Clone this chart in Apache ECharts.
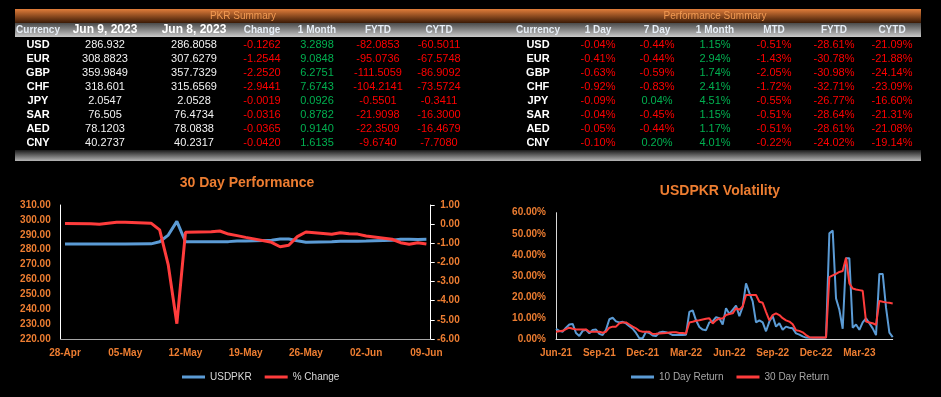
<!DOCTYPE html>
<html>
<head>
<meta charset="utf-8">
<script src="https://cdn.jsdelivr.net/npm/echarts@6.0.0/dist/echarts.min.js"></script>
<style>
  html, body { margin: 0; padding: 0; background: #000; }
  #main { width: 941px; height: 397px; }
</style>
</head>
<body>
<div id="main"></div>
<script>
// ---- table data ----
var pkrHeaders = ['Currency', 'Jun 9, 2023', 'Jun 8, 2023', 'Change', '1 Month', 'FYTD', 'CYTD'];
var currencies = ['USD', 'EUR', 'GBP', 'CHF', 'JPY', 'SAR', 'AED', 'CNY'];
var jun9 = ['286.932', '308.8823', '359.9849', '318.601', '2.0547', '76.505', '78.1203', '40.2737'];
var jun8 = ['286.8058', '307.6279', '357.7329', '315.6569', '2.0528', '76.4734', '78.0838', '40.2317'];
var change = ['-0.1262', '-1.2544', '-2.2520', '-2.9441', '-0.0019', '-0.0316', '-0.0365', '-0.0420'];
var oneMonth = ['3.2898', '9.0848', '6.2751', '7.6743', '0.0926', '0.8782', '0.9140', '1.6135'];
var fytd = ['-82.0853', '-95.0736', '-111.5059', '-104.2141', '-0.5501', '-21.9098', '-22.3509', '-9.6740'];
var cytd = ['-60.5011', '-67.5748', '-86.9092', '-73.5724', '-0.3411', '-16.3000', '-16.4679', '-7.7080'];

var perfHeaders = ['Currency', '1 Day', '7 Day', '1 Month', 'MTD', 'FYTD', 'CYTD'];
var perf1Day = ['-0.04%', '-0.41%', '-0.63%', '-0.92%', '-0.09%', '-0.04%', '-0.05%', '-0.10%'];
var perf7Day = ['-0.44%', '-0.44%', '-0.59%', '-0.83%', '0.04%', '-0.45%', '-0.44%', '0.20%'];
var perf1Month = ['1.15%', '2.94%', '1.74%', '2.41%', '4.51%', '1.15%', '1.17%', '4.01%'];
var perfMtd = ['-0.51%', '-1.43%', '-2.05%', '-1.72%', '-0.55%', '-0.51%', '-0.51%', '-0.22%'];
var perfFytd = ['-28.61%', '-30.78%', '-30.98%', '-32.71%', '-26.77%', '-28.64%', '-28.61%', '-24.02%'];
var perfCytd = ['-21.09%', '-21.88%', '-24.14%', '-23.09%', '-16.60%', '-21.31%', '-21.08%', '-19.14%'];

// ---- 30 day performance (weekends null) ----
var days = ['28-Apr', '29-Apr', '30-Apr', '01-May', '02-May', '03-May', '04-May', '05-May', '06-May', '07-May',
  '08-May', '09-May', '10-May', '11-May', '12-May', '13-May', '14-May', '15-May', '16-May', '17-May',
  '18-May', '19-May', '20-May', '21-May', '22-May', '23-May', '24-May', '25-May', '26-May', '27-May',
  '28-May', '29-May', '30-May', '31-May', '01-Jun', '02-Jun', '03-Jun', '04-Jun', '05-Jun', '06-Jun',
  '07-Jun', '08-Jun', '09-Jun'];
var usdpkr = [283.8, null, null, 283.8, 283.8, 283.8, 283.8, 283.8, null, null,
  283.9, 285.3, 289.8, 299.0, 285.3, null, null, 285.3, 285.3, 285.4,
  285.8, 285.9, null, null, 286.4, 287.1, 287.1, 286.0, 285.0, null,
  null, 285.3, 285.6, 285.6, 285.7, 285.8, null, null, 286.4, 287.0,
  287.0, 286.81, 286.93];
var pctChange = [0.04, null, null, 0.02, -0.01, 0.05, 0.1, 0.1, null, null,
  0.05, -0.3, -2.13, -5.2, -0.43, null, null, -0.4, -0.36, -0.52,
  -0.6, -0.69, null, null, -0.95, -1.18, -1.1, -0.65, -0.41, null,
  null, -0.53, -0.45, -0.5, -0.52, -0.62, null, null, -0.79, -0.97,
  -1.05, -0.97, -1.04];

// ---- volatility (weekly, from Jun-21) ----
var quarterLabels = ['Jun-21', 'Sep-21', 'Dec-21', 'Mar-22', 'Jun-22', 'Sep-22', 'Dec-22', 'Mar-23'];
var ret10 = [4.9, 4.0, 3.6, 5.5, 7.0, 7.3, 3.0, 1.6, 4.0, 4.5,
  2.8, 4.4, 4.6, 2.6, 2.0, 4.5, 9.5, 10.2, 8.5, 8.0,
  8.3, 7.5, 6.2, 5.0, 3.0, 0.5, 0.5, 3.6, 3.0, 1.8,
  1.6, 3.2, 3.6, 3.4, 2.8, 2.0, 2.0, 2.0, 2.0, 2.2,
  13.0, 13.7, 9.0, 5.8, 4.6, 4.3, 8.0, 8.5, 10.5, 10.0,
  7.0, 14.7, 12.0, 14.0, 16.0, 11.0, 15.5, 26.5, 22.0, 18.0,
  8.0, 9.0, 8.0, 3.8, 8.4, 11.0, 6.0, 7.6, 4.5, 6.0,
  5.5, 5.2, 2.8, 2.2, 1.4, 0.8, 0.7, 0.7, 0.7, 0.7,
  0.7, 0.8, 50.2, 51.5, 19.4, 14.0, 5.0, 38.4, 38.4, 5.5,
  7.0, 4.5, 8.0, 9.9, 7.6, 5.2, 2.0, 31.0, 31.0, 15.0,
  3.2, 1.0];
var ret30 = [3.6, 3.8, 4.0, 4.8, 5.5, 5.0, 4.7, 4.7, 4.7, 4.7,
  3.6, 3.6, 3.6, 3.6, 3.1, 3.6, 5.5, 6.0, 6.0, 7.6,
  8.0, 8.0, 7.0, 6.0, 5.2, 4.0, 3.6, 3.6, 3.6, 2.5,
  2.6, 2.8, 2.9, 3.0, 3.2, 3.3, 3.3, 3.0, 3.0, 2.8,
  8.0, 8.3, 8.8, 9.0, 9.4, 9.7, 10.0, 7.5, 9.0, 9.9,
  9.9, 11.5, 12.0, 12.3, 14.7, 14.0, 15.5, 21.0, 21.0, 21.0,
  21.0, 17.8, 17.3, 13.0, 9.0, 11.5, 12.3, 11.5, 10.0, 9.0,
  8.4, 7.1, 4.3, 4.0, 3.3, 2.0, 1.0, 0.8, 0.8, 0.8,
  0.8, 0.8, 29.5, 30.3, 31.0, 31.9, 32.4, 38.7, 26.5, 24.1,
  23.6, 23.3, 23.0, 8.4, 8.0, 7.6, 6.8, 18.2, 17.8, 17.5,
  17.3, 17.0];

var ORANGE = '#ed7d31';
var BLUE = '#5b9bd5';
var RED = '#ff3c3c';
var FONT = '"Liberation Sans", Arial, sans-serif';

function numColor(s) { return s.charAt(0) === '-' ? '#ff0000' : '#00b050'; }

// table drawing via graphic elements
var graphics = [];
function band(y, h, c1, c2) {
  graphics.push({
    type: 'rect', shape: { x: 15, y: y, width: 906, height: h }, silent: true,
    style: { fill: new echarts.graphic.LinearGradient(0, 0, 0, 1, [
      { offset: 0, color: c1 }, { offset: 1, color: c2 }]) }
  });
}
function txt(s, x, y, color, font) {
  graphics.push({
    type: 'text', silent: true,
    style: { text: s, x: x, y: y, fill: color, font: font, textAlign: 'center', textVerticalAlign: 'middle' }
  });
}
band(9, 14, '#e17d3a', '#3a1a06');
band(23, 14, '#4a4a4a', '#c9c9c9');
band(150, 11, '#1a1a1a', '#b5b5b5');
txt('PKR Summary', 243, 16, '#f29a52', '10px ' + FONT);
txt('Performance Summary', 715, 16, '#f29a52', '10px ' + FONT);

var leftX = [38, 105, 194, 262, 317, 378, 439];
var rightX = [538, 598, 657, 715, 774, 834, 892];
pkrHeaders.forEach(function (h, i) {
  var big = (i === 1 || i === 2);
  txt(h, leftX[i], 30, big ? '#ffffff' : '#e6edf5', (big ? 'bold 12px ' : 'bold 10px ') + FONT);
});
perfHeaders.forEach(function (h, i) {
  txt(h, rightX[i], 30, '#e6edf5', 'bold 10px ' + FONT);
});
currencies.forEach(function (c, r) {
  var y = 45 + r * 14;
  var f = '11px ' + FONT;
  txt(c, leftX[0], y, '#ffffff', 'bold 11px ' + FONT);
  txt(jun9[r], leftX[1], y, '#f2f2f2', f);
  txt(jun8[r], leftX[2], y, '#f2f2f2', f);
  txt(change[r], leftX[3], y, numColor(change[r]), f);
  txt(oneMonth[r], leftX[4], y, numColor(oneMonth[r]), f);
  txt(fytd[r], leftX[5], y, numColor(fytd[r]), f);
  txt(cytd[r], leftX[6], y, numColor(cytd[r]), f);

  txt(c, rightX[0], y, '#ffffff', 'bold 11px ' + FONT);
  [perf1Day, perf7Day, perf1Month, perfMtd, perfFytd, perfCytd].forEach(function (arr, k) {
    txt(arr[r], rightX[k + 1], y, numColor(arr[r]), f);
  });
});

var labelStyle = { color: ORANGE, fontSize: 10, fontWeight: 'bold', fontFamily: FONT };

var chart = echarts.init(document.getElementById('main'));
chart.setOption({
  backgroundColor: '#000',
  animation: false,
  textStyle: { fontFamily: FONT },
  graphic: graphics,
  title: [
    { text: '30 Day Performance', left: 242, top: 171, textAlign: 'center',
      textStyle: { color: ORANGE, fontSize: 14, fontWeight: 'bold', fontFamily: FONT } },
    { text: 'USDPKR Volatility', left: 715, top: 179, textAlign: 'center',
      textStyle: { color: ORANGE, fontSize: 14, fontWeight: 'bold', fontFamily: FONT } }
  ],
  legend: [
    { data: ['USDPKR', '% Change'], left: 177, top: 367, icon: 'rect', itemWidth: 23, itemHeight: 3,
      itemGap: 13, textStyle: { color: '#d9d9d9', fontSize: 10, fontFamily: FONT } },
    { data: ['10 Day Return', '30 Day Return'], left: 626, top: 367, icon: 'rect', itemWidth: 23, itemHeight: 3,
      itemGap: 13, textStyle: { color: '#a6a6a6', fontSize: 10, fontFamily: FONT } }
  ],
  grid: [
    { left: 60.7, right: 510.3, top: 205, bottom: 58, containLabel: false },
    { left: 556, right: 48.3, top: 212.7, bottom: 57.7, containLabel: false }
  ],
  xAxis: [
    { type: 'category', gridIndex: 0, data: days, boundaryGap: true,
      axisLine: { onZero: false, lineStyle: { color: '#a6a6a6', width: 1 } }, axisTick: { show: false },
      axisLabel: Object.assign({ interval: 6, margin: 9 }, labelStyle), splitLine: { show: false } },
    { type: 'value', gridIndex: 1, min: 0, max: ret10.length - 1, interval: 13,
      axisLine: { show: true, onZero: false, lineStyle: { color: '#d9d9d9', width: 1 } }, axisTick: { show: false },
      axisLabel: Object.assign({ margin: 9, showMaxLabel: false,
        formatter: function (v) { return quarterLabels[Math.round(v / 13)] || ''; } }, labelStyle),
      splitLine: { show: false } }
  ],
  yAxis: [
    { type: 'value', gridIndex: 0, min: 220, max: 310, interval: 10,
      axisLine: { show: true, lineStyle: { color: '#ffffff', width: 1 } }, axisTick: { show: false },
      axisLabel: Object.assign({ margin: 10, formatter: function (v) { return v.toFixed(2); } }, labelStyle),
      splitLine: { show: false } },
    { type: 'value', gridIndex: 0, position: 'right', min: -6, max: 1, interval: 1,
      axisLine: { show: true, lineStyle: { color: '#ffffff', width: 1 } },
      axisTick: { show: true, length: 4, lineStyle: { color: '#ffffff' } },
      axisLabel: Object.assign({ margin: 29, align: 'right', formatter: function (v) { return v.toFixed(2); } }, labelStyle),
      splitLine: { show: false } },
    { type: 'value', gridIndex: 1, min: 0, max: 60, interval: 10,
      axisLine: { show: true, lineStyle: { color: '#d9d9d9', width: 1 } }, axisTick: { show: false },
      axisLabel: Object.assign({ margin: 10, formatter: function (v) { return v.toFixed(2) + '%'; } }, labelStyle),
      splitLine: { show: false } }
  ],
  series: [
    { name: 'USDPKR', type: 'line', xAxisIndex: 0, yAxisIndex: 0, data: usdpkr, connectNulls: true,
      showSymbol: false, color: BLUE, lineStyle: { width: 3, color: BLUE } },
    { name: '% Change', type: 'line', xAxisIndex: 0, yAxisIndex: 1, data: pctChange, connectNulls: true,
      showSymbol: false, color: RED, lineStyle: { width: 3, color: RED } },
    { name: '10 Day Return', type: 'line', xAxisIndex: 1, yAxisIndex: 2,
      data: ret10.map(function (v, i) { return [i, v]; }),
      showSymbol: false, color: BLUE, lineStyle: { width: 2, color: BLUE } },
    { name: '30 Day Return', type: 'line', xAxisIndex: 1, yAxisIndex: 2,
      data: ret30.map(function (v, i) { return [i, v]; }),
      showSymbol: false, color: RED, lineStyle: { width: 2, color: RED } }
  ]
});
</script>
</body>
</html>
